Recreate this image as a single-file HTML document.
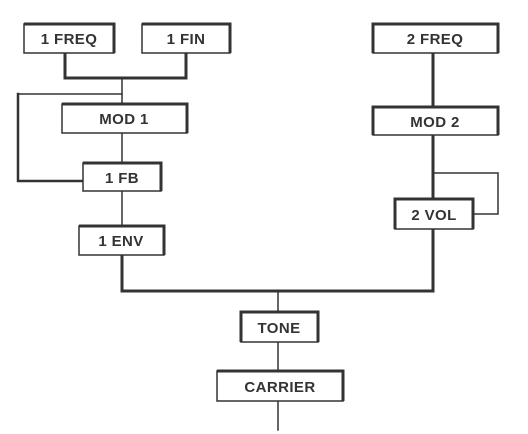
<!DOCTYPE html>
<html><head><meta charset="utf-8"><style>
html,body{margin:0;padding:0;background:#fff;}
svg{display:block;}
text{font-family:"Liberation Sans",Arial,sans-serif;font-weight:bold;font-size:15px;fill:#333;letter-spacing:0.4px;text-anchor:middle;}
</style></head><body>
<svg width="528" height="434" viewBox="0 0 528 434" xmlns="http://www.w3.org/2000/svg">
<g fill="none" stroke="#333" stroke-linecap="square">
<polyline points="65,53 65,78 186,78 186,53" stroke-width="3"/>
<line x1="122" y1="78" x2="122" y2="104" stroke-width="1.5"/>
<line x1="122" y1="94" x2="18" y2="94" stroke-width="1.5"/>
<polyline points="18,94 18,181 83,181" stroke-width="2.5"/>
<line x1="122" y1="133" x2="122" y2="163" stroke-width="1.5"/>
<line x1="122" y1="191" x2="122" y2="226" stroke-width="1.5"/>
<line x1="122" y1="255" x2="122" y2="291" stroke-width="3"/>
<polyline points="122,291 433,291 433,229" stroke-width="3"/>
<line x1="433" y1="53" x2="433" y2="107" stroke-width="3"/>
<line x1="433" y1="135" x2="433" y2="199" stroke-width="3"/>
<polyline points="433,173 498,173 498,214 473,214" stroke-width="1.5"/>
<line x1="278" y1="291" x2="278" y2="312" stroke-width="1.5"/>
<line x1="278" y1="342" x2="278" y2="371" stroke-width="1.5"/>
<line x1="278" y1="401" x2="278" y2="430" stroke-width="1.5"/>
</g>
<g fill="#fff" stroke="#333" stroke-width="1.5">
<rect x="24" y="24" width="90" height="29"/>
<rect x="142" y="24" width="88" height="29"/>
<rect x="62" y="104" width="125" height="29"/>
<rect x="83" y="163" width="78" height="28"/>
<rect x="79" y="226" width="85" height="29"/>
<rect x="373" y="24" width="125" height="29"/>
<rect x="373" y="107" width="125" height="28"/>
<rect x="395" y="199" width="78" height="30"/>
<rect x="241" y="312" width="77" height="30"/>
<rect x="217" y="371" width="126" height="30"/>
</g>
<g fill="none" stroke="#333" stroke-width="3">
<polyline points="24,24 114,24 114,53"/>
<polyline points="142,24 230,24 230,53"/>
<polyline points="62,104 187,104 187,133"/>
<polyline points="83,163 161,163 161,191"/>
<polyline points="79,226 164,226 164,255"/>
<polyline points="373,53 373,24 498,24 498,53"/>
<polyline points="373,135 373,107 498,107 498,135"/>
<polyline points="395,229 395,199 473,199 473,229"/>
<polyline points="241,342 241,312 318,312 318,342"/>
<polyline points="217,371 343,371 343,401"/>
</g>
<text x="69" y="44">1 FREQ</text>
<text x="186" y="44">1 FIN</text>
<text x="124" y="124">MOD 1</text>
<text x="122" y="183">1 FB</text>
<text x="121" y="246">1 ENV</text>
<text x="435" y="44">2 FREQ</text>
<text x="435" y="127">MOD 2</text>
<text x="434" y="220">2 VOL</text>
<text x="279" y="333">TONE</text>
<text x="280" y="392">CARRIER</text>
</svg>
</body></html>
